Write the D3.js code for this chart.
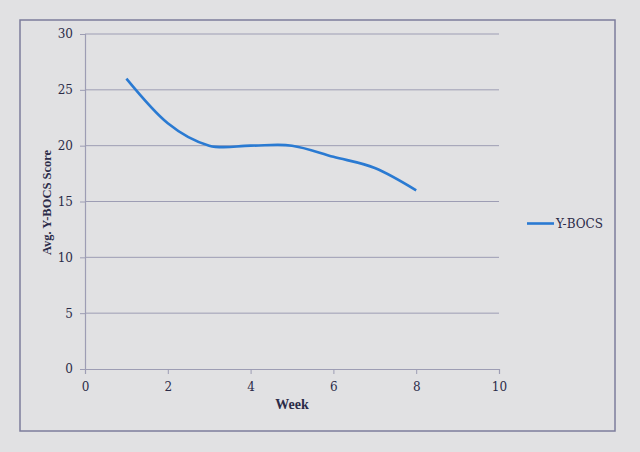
<!DOCTYPE html>
<html>
<head>
<meta charset="utf-8">
<script src="https://cdn.jsdelivr.net/npm/d3@7"></script>
<style>
  html, body { margin: 0; padding: 0; background: #e1e1e3; }
  svg { display: block; }
</style>
</head>
<body>
<svg id="chart" width="640" height="452"></svg>
<script>
const weeks = [1, 2, 3, 4, 5, 6, 7, 8];
const ybocs = [26, 22, 20, 20, 20, 19, 18, 16];
const xTicks = [0, 2, 4, 6, 8, 10];
const yTicks = [0, 5, 10, 15, 20, 25, 30];
const seriesName = "Y-BOCS";
const xTitle = "Week";
const yTitle = "Avg. Y-BOCS Score";

const svg = d3.select("#chart");
const W = 640, H = 452;
const plot = { left: 85, right: 499, top: 34, bottom: 369 };

svg.append("rect").attr("x", 0).attr("y", 0).attr("width", W).attr("height", H).attr("fill", "#e1e1e3");
svg.append("rect").attr("x", 20).attr("y", 20).attr("width", 595).attr("height", 411)
  .attr("fill", "none").attr("stroke", "#7c7c9c").attr("stroke-width", 1.5);

const x = d3.scaleLinear().domain([0, 10]).range([plot.left, plot.right]);
const y = d3.scaleLinear().domain([0, 30]).range([plot.bottom, plot.top]);

const gridColor = "#9d9db4";
const textColor = "#2b2b48";

// gridlines
svg.append("g").selectAll("line").data(yTicks.filter(d => d > 0)).join("line")
  .attr("x1", plot.left).attr("x2", plot.right)
  .attr("y1", d => y(d)).attr("y2", d => y(d))
  .attr("stroke", gridColor).attr("stroke-width", 1);

// y axis
const yAxis = svg.append("g").attr("transform", `translate(${plot.left},0)`)
  .call(d3.axisLeft(y).tickValues(yTicks).tickSize(5).tickPadding(7));
// x axis
const xAxis = svg.append("g").attr("transform", `translate(0,${plot.bottom})`)
  .call(d3.axisBottom(x).tickValues(xTicks).tickSize(5).tickPadding(8));

[yAxis, xAxis].forEach(g => {
  g.select(".domain").attr("stroke", gridColor).attr("stroke-width", 1.2);
  g.selectAll(".tick line").attr("stroke", gridColor);
  g.selectAll(".tick text").attr("fill", textColor)
    .style("font-family", "'DejaVu Serif', serif").style("font-size", "12px");
});

// line
const line = d3.line()
  .x((d, i) => x(weeks[i]))
  .y(d => y(d))
  .curve(d3.curveCardinal.tension(0));
svg.append("path").datum(ybocs)
  .attr("d", line)
  .attr("fill", "none").attr("stroke", "#2a7ad2").attr("stroke-width", 2.6)
  .attr("stroke-linecap", "butt");

// titles
svg.append("text").attr("x", (plot.left + plot.right) / 2).attr("y", 409)
  .attr("text-anchor", "middle").attr("fill", textColor)
  .style("font-family", "'Liberation Serif', serif").style("font-weight", "bold").style("font-size", "14px")
  .text(xTitle);
svg.append("text")
  .attr("transform", `translate(51,${(plot.top + plot.bottom) / 2 + 1}) rotate(-90)`)
  .attr("text-anchor", "middle").attr("fill", textColor)
  .style("font-family", "'Liberation Serif', serif").style("font-weight", "bold").style("font-size", "12.5px")
  .text(yTitle);

// legend
const lg = svg.append("g").attr("transform", "translate(527,223.5)");
lg.append("line").attr("x1", 0).attr("x2", 27).attr("y1", 0).attr("y2", 0)
  .attr("stroke", "#2a7ad2").attr("stroke-width", 2.6);
lg.append("text").attr("x", 29).attr("y", 4.5).attr("fill", textColor)
  .style("font-family", "'DejaVu Serif', serif").style("font-size", "12px")
  .text(seriesName);
</script>
</body>
</html>
